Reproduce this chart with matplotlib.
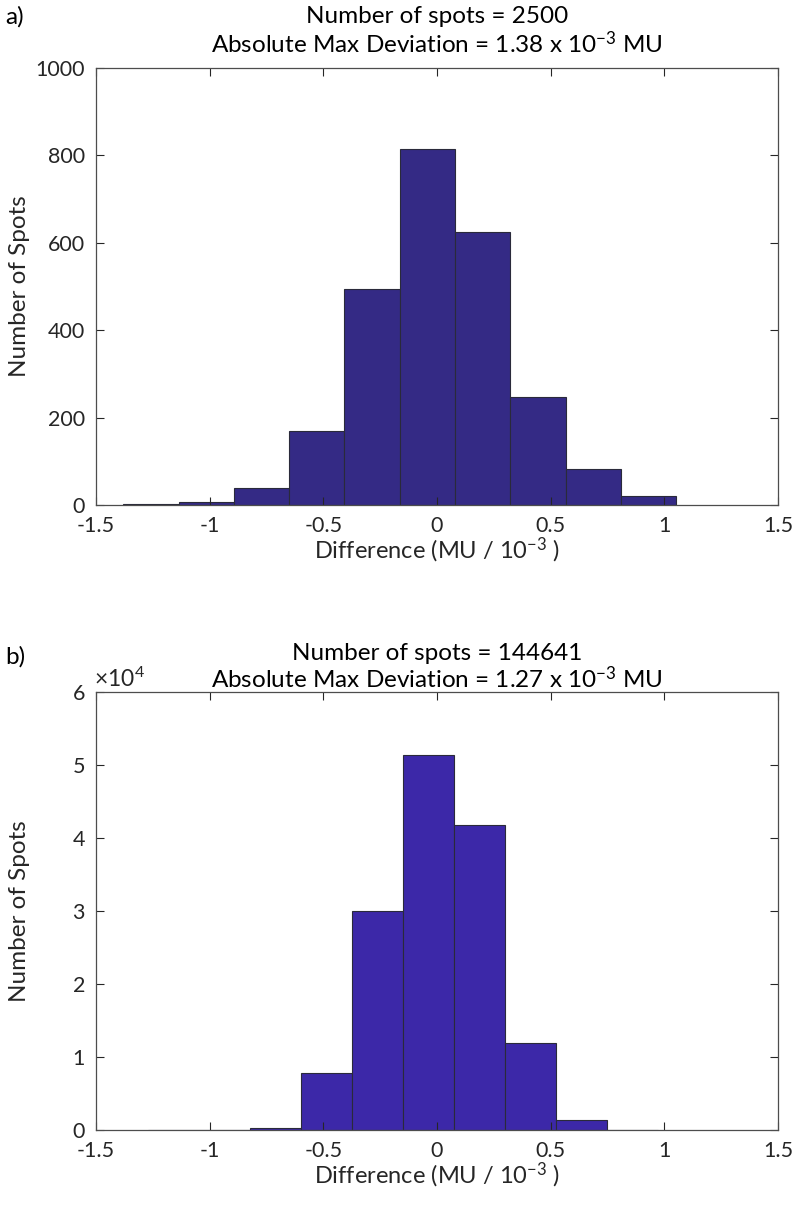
import numpy as np
import matplotlib
matplotlib.use("Agg")
import matplotlib.pyplot as plt

plt.rcParams["font.family"] = ["Lato", "DejaVu Sans"]
plt.rcParams["mathtext.fontset"] = "custom"
plt.rcParams["mathtext.rm"] = "Lato"
plt.rcParams["mathtext.it"] = "Lato:italic"

# panel a: 2500 spots
edges_a = [-1.380, -1.137, -0.893, -0.650, -0.407, -0.163, 0.080, 0.323, 0.567, 0.810, 1.053]
counts_a = [2, 6, 38, 170, 495, 815, 624, 248, 82, 20]

# panel b: 144641 spots
edges_b = [-1.270, -1.046, -0.822, -0.598, -0.374, -0.150, 0.074, 0.298, 0.522, 0.746, 0.970]
counts_b = [1, 0, 330, 7820, 29980, 51320, 41830, 11880, 1420, 60]

xticks = [-1.5, -1, -0.5, 0, 0.5, 1, 1.5]
xticklabels = ["-1.5", "-1", "-0.5", "0", "0.5", "1", "1.5"]
yticks_a = [0, 200, 400, 600, 800, 1000]
yticks_b = [0, 10000, 20000, 30000, 40000, 50000, 60000]
yticklabels_b = ["0", "1", "2", "3", "4", "5", "6"]

title_a = ["Number of spots = 2500", "Absolute Max Deviation = 1.38 x 10$^{-3}$ MU"]
title_b = ["Number of spots = 144641", "Absolute Max Deviation = 1.27 x 10$^{-3}$ MU"]

W, H = 792, 1208
fig = plt.figure(figsize=(W / 100, H / 100), dpi=100)
ax_a = fig.add_axes([96 / W, 1 - 505 / H, 682 / W, 437 / H])
ax_b = fig.add_axes([96 / W, 1 - 1130 / H, 682 / W, 438 / H])

def style(ax):
    ax.set_xlim(-1.5, 1.5)
    ax.set_xticks(xticks)
    ax.set_xticklabels(xticklabels)
    ax.tick_params(direction="in", top=True, right=True, length=6, width=0.8,
                   colors="#262626", labelsize=15.5, pad=8)
    for s in ax.spines.values():
        s.set_color("#4d4d4d")
        s.set_linewidth(0.9)
    ax.set_xlabel("Difference (MU / 10$^{-3}$ )", fontsize=17, color="#262626", labelpad=0)
    ax.set_ylabel("Number of Spots", fontsize=17.5, color="#262626")
    ax.yaxis.set_label_coords(-66 / 682, 0.5)

def draw(ax, edges, counts, color):
    e = np.array(edges)
    ax.bar(e[:-1], counts, width=np.diff(e), align="edge", color=color,
           edgecolor="#2a2a3a", linewidth=0.8)

def title(lines, y1, y2):
    xc = (96 + 682 / 2) / W
    fig.text(xc, 1 - y1 / H, lines[0], fontsize=17.5, ha="center", va="baseline")
    fig.text(xc, 1 - y2 / H, lines[1], fontsize=17.5, ha="center", va="baseline")

draw(ax_a, edges_a, counts_a, "#342a85")
style(ax_a)
ax_a.set_ylim(0, 1000)
ax_a.set_yticks(yticks_a)
title(title_a, 23, 53)

draw(ax_b, edges_b, counts_b, "#3c28a8")
style(ax_b)
ax_b.set_ylim(0, 60000)
ax_b.set_yticks(yticks_b)
ax_b.set_yticklabels(yticklabels_b)
title(title_b, 660, 688)
fig.text(94 / W, 1 - 687 / H, r"$\times$10$^4$", fontsize=16.5, color="#262626",
         ha="left", va="baseline")

fig.text(5 / W, 1 - 24 / H, "a)", fontsize=17.5, va="baseline", ha="left")
fig.text(5 / W, 1 - 664 / H, "b)", fontsize=17.5, va="baseline", ha="left")

fig.savefig("out.png", dpi=100)
